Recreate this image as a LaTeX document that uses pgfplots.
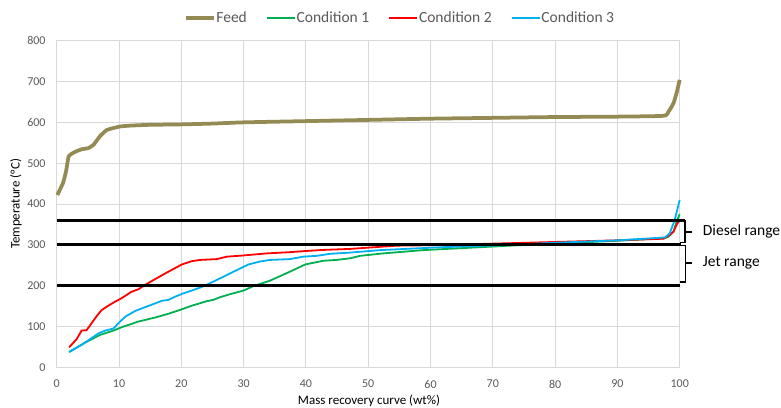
\documentclass[border=0pt]{standalone}
\usepackage{fontspec}
\setmainfont{Carlito}
\usepackage{pgfplots}
\pgfplotsset{compat=1.18}
\definecolor{feedc}{HTML}{948A54}
\definecolor{c1}{HTML}{00B050}
\definecolor{c2}{HTML}{FF0000}
\definecolor{c3}{HTML}{00B0F0}
\definecolor{gridc}{HTML}{D9D9D9}
\definecolor{labc}{HTML}{595959}
\begin{document}
\begin{tikzpicture}
\useasboundingbox (0bp,0bp) rectangle (781bp,408bp);
\begin{axis}[
  at={(56.7bp,40.7bp)}, anchor=south west,
  width=623bp, height=326.6bp, scale only axis,
  xmin=0, xmax=100, ymin=0, ymax=800,
  xtick={0,10,...,100}, ytick={0,100,...,800},
  grid=major, grid style={draw=gridc, line width=1bp},
  axis line style={draw=gridc, line width=1bp},
  major tick length=0,
  /pgf/number format/assume math mode=true,
  tick label style={font=\fontsize{12bp}{14bp}\selectfont, text=labc, inner sep=0pt},
  yticklabel style={anchor=east, xshift=-11bp},
  xticklabel style={anchor=north, yshift=-12.5bp},
  clip=false,
  legend columns=4,
  legend style={at={(0.55,1.0695)}, anchor=center, draw=none, fill=none,
    font=\fontsize{15.5bp}{18bp}\selectfont, text=labc,
    nodes={inner sep=1bp},
    /tikz/every even column/.append style={column sep=18bp}},
  legend image code/.code={\draw[#1] (0bp,0bp) -- (28bp,0bp);},
]
\addplot[feedc, line width=3.75bp, smooth, tension=0.3] coordinates {
(0.1,422) (1,451) (1.5,480) (1.9,516) (2.4,523) (3,528) (4,534) (5.1,537) (5.9,545) (6.5,557) (7,567) (8,581) (9.1,586) (10.2,590) (11.8,592) (15,594) (20,595) (25,597) (30,600) (40,603) (50,606) (60,609) (70,611) (80,613) (90,614) (97.4,616) (98.2,626) (99,647) (99.5,672) (100,704)};
\addlegendentry{Feed}
\addplot[c1, line width=1.8bp] coordinates {
(2,37.5) (4.5,60) (6.9,79) (9.1,90) (10.4,98) (13.1,112) (15.8,122) (17.9,131) (19.5,139) (21.7,151) (24.1,162) (25.1,165) (26.2,171.5) (27.8,179) (30,188) (31.6,199) (34.2,212) (37.4,234) (39.9,252) (42.8,261) (44.9,263) (47.1,267) (48.7,273) (52.4,279) (58.8,287) (72.8,298) (80,303) (90,310) (97.5,316) (98.2,320) (99,332) (99.5,357) (100,375)};
\addlegendentry{Condition 1}
\addplot[c2, line width=1.8bp] coordinates {
(2,49) (3.2,69) (4,90) (4.8,91) (5.6,108) (6.4,125) (7.2,140) (8.3,151) (9.4,161) (10.4,169) (12,185) (13.1,191) (14.2,202) (15.8,216) (17.9,234) (20.1,252) (21.7,260) (23,263) (25.7,265) (27.3,271) (30,274) (33.7,279) (37.4,282) (40.1,285) (42.8,287.5) (47.1,290) (54.6,298) (60,299) (72.8,304) (80,307) (90,311) (97.4,315) (98.2,322) (99,332) (99.5,349) (100,361)};
\addlegendentry{Condition 2}
\addplot[c3, line width=1.8bp] coordinates {
(2,37.5) (4,55) (6.7,83) (7.8,90) (9.1,95) (9.9,108) (11,124) (12.6,138) (13.6,144) (15.2,153) (16.9,163) (17.9,165) (19,173) (20.3,181) (21.7,188) (23.5,198) (25.7,214) (27.3,226) (28.9,238) (30.8,252) (32.6,259) (34.2,263) (37.4,265) (39.6,271) (41.7,273) (43.9,278) (47.1,281) (51.9,287) (61.5,294) (72.8,300) (80,305) (90,311) (97.6,318) (98.4,328) (99.2,361) (100,410)};
\addlegendentry{Condition 3}
\addplot[black, line width=3bp, forget plot] coordinates {(0,360) (100.85,360)};
\addplot[black, line width=3bp, forget plot] coordinates {(0,300) (100.2,300)};
\addplot[black, line width=3bp, forget plot] coordinates {(0,200) (100,200)};
\draw[black, line width=1.6bp] (axis cs:100,306) -- (axis cs:100.85,306) -- (axis cs:100.85,361);
\draw[black, line width=1.6bp] (axis cs:100.85,331.6) -- (axis cs:101.9,331.6);
\draw[black, line width=1.6bp] (axis cs:100,298) -- (axis cs:100.95,298) -- (axis cs:100.95,209) -- (axis cs:100,209);
\draw[black, line width=1.6bp] (axis cs:100.95,255.6) -- (axis cs:101.9,255.6);
\node[anchor=west, inner sep=0pt, font=\fontsize{15.5bp}{18bp}\selectfont] at (axis cs:103.7,331.6) {Diesel range};
\node[anchor=west, inner sep=0pt, font=\fontsize{15.5bp}{18bp}\selectfont] at (axis cs:103.7,255.6) {Jet range};
\end{axis}
\node[rotate=90, inner sep=0pt, font=\fontsize{13bp}{15bp}\selectfont] at (16bp,204bp) {Temperature (°C)};
\node[anchor=base, inner sep=0pt, font=\fontsize{13bp}{15bp}\selectfont] at (369bp,3.5bp) {Mass recovery curve (wt\%)};
\end{tikzpicture}
\end{document}
